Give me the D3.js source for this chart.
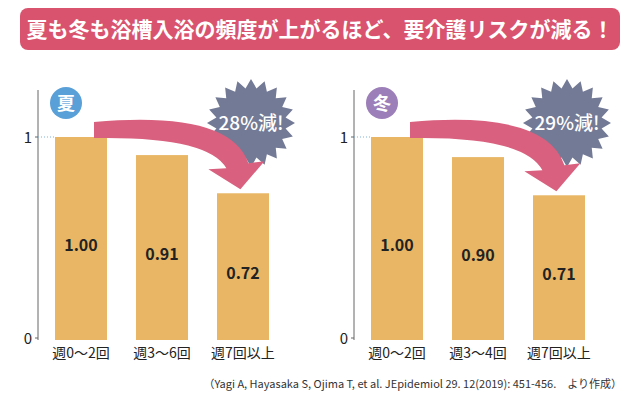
<!DOCTYPE html>
<meta charset="utf-8">
<style>
  body { margin: 0; background: #fff; }
  text { font-family: "Noto Sans CJK JP", "Noto Sans", sans-serif; }
</style>
<body>
<script src="https://d3js.org/d3.v7.min.js"></script>
<script>
var categoriesSummer = ["週0～2回", "週3～6回", "週7回以上"];
var categoriesWinter = ["週0～2回", "週3～4回", "週7回以上"];
var summerValues = [1.00, 0.91, 0.72];
var winterValues = [1.00, 0.90, 0.71];
var yTicks = [0, 1];

var svg = d3.select("body").append("svg").attr("width", 640).attr("height", 400);

// title banner
svg.append("rect").attr("x", 20).attr("y", 8).attr("width", 600).attr("height", 42)
  .attr("rx", 8).attr("fill", "#d9536e");
svg.append("text").attr("x", 320).attr("y", 37).attr("text-anchor", "middle")
  .attr("fill", "#fff").attr("font-size", 21).attr("font-weight", "bold")
  .text("夏も冬も浴槽入浴の頻度が上がるほど、要介護リスクが減る！");

function panel(ox, cats, vals, badge, badgeColor, pct) {
  var g = svg.append("g");
  var y = d3.scaleLinear().domain([0, 1]).range([338, 137]);
  var x = d3.scaleBand().domain(cats).range([ox + 17, ox + 231]).paddingInner(0.358).paddingOuter(0);

  g.append("line").attr("x1", ox).attr("x2", ox).attr("y1", 90).attr("y2", 340)
    .attr("stroke", "#666").attr("stroke-width", 1);
  yTicks.forEach(function(t) {
    g.append("text").attr("x", ox - 6).attr("y", y(t) + 6).attr("text-anchor", "end")
      .attr("font-size", 15).attr("fill", "#222").text(t);
    g.append("line").attr("x1", ox - 3).attr("x2", ox).attr("y1", y(t)).attr("y2", y(t)).attr("stroke", "#666");
  });
  g.append("line").attr("x1", ox).attr("x2", x(cats[0])).attr("y1", y(1)).attr("y2", y(1))
    .attr("stroke", "#7fb3d9").attr("stroke-dasharray", "1,2");

  g.selectAll("rect.bar").data(vals).enter().append("rect")
    .attr("x", function(d, i) { return x(cats[i]); })
    .attr("y", function(d) { return y(d); })
    .attr("width", x.bandwidth())
    .attr("height", function(d) { return 340 - y(d); })
    .attr("fill", "#e8b665");
  g.selectAll("text.val").data(vals).enter().append("text")
    .attr("x", function(d, i) { return x(cats[i]) + x.bandwidth() / 2; })
    .attr("y", function(d) { return (y(d) + 340) / 2 + 12; })
    .attr("text-anchor", "middle").attr("font-size", 16).attr("font-weight", "bold")
    .attr("fill", "#222").text(function(d) { return d.toFixed(2); });
  g.selectAll("text.cat").data(cats).enter().append("text")
    .attr("x", function(d) { return x(d) + x.bandwidth() / 2; })
    .attr("y", 358).attr("text-anchor", "middle").attr("font-size", 14).attr("fill", "#222")
    .text(function(d) { return d; });

  // badge
  g.append("circle").attr("cx", ox + 28).attr("cy", 103).attr("r", 16).attr("fill", badgeColor);
  g.append("text").attr("x", ox + 28).attr("y", 110).attr("text-anchor", "middle")
    .attr("font-size", 18).attr("font-weight", "bold").attr("fill", "#fff").text(badge);

  // starburst
  var cx = x(cats[2]) + x.bandwidth() / 2 + 8, cy = 123, n = 20, pts = [];
  for (var i = 0; i < n * 2; i++) {
    var r = i % 2 ? 35 : 44, a = Math.PI * i / n;
    pts.push([cx + r * Math.sin(a), cy - r * Math.cos(a)]);
  }
  g.append("polygon").attr("points", pts.map(function(p) { return p.join(","); }).join(" "))
    .attr("fill", "#737a95");
  g.append("text").attr("x", cx).attr("y", cy + 7).attr("text-anchor", "middle")
    .attr("font-size", 19).attr("font-weight", 500).attr("fill", "#fff").text(pct);

  // curved arrow
  var x0 = x(cats[0]) + x.bandwidth() * 0.75, tipX = x(cats[2]) + x.bandwidth() * 0.45, tipY = y(vals[2]) - 4;
  var path = d3.path();
  path.moveTo(x0, 122);
  path.quadraticCurveTo(tipX - 10, 110, tipX + 8, tipY - 26);
  path.lineTo(tipX + 24, tipY - 28);
  path.lineTo(tipX, tipY);
  path.lineTo(tipX - 32, tipY - 20);
  path.lineTo(tipX - 14, tipY - 21);
  path.quadraticCurveTo(tipX - 32, 136, x0, 138);
  path.closePath();
  g.append("path").attr("d", path.toString()).attr("fill", "#d9607e");
}

panel(38, categoriesSummer, summerValues, "夏", "#5aa0d8", "28%減!");
panel(354, categoriesWinter, winterValues, "冬", "#9c7fb8", "29%減!");

svg.append("text").attr("x", 622).attr("y", 388).attr("text-anchor", "end")
  .attr("font-size", 11).attr("fill", "#333")
  .text("（Yagi A, Hayasaka S, Ojima T, et al. JEpidemiol 29. 12(2019): 451-456.　より作成）");
</script>
</body>
